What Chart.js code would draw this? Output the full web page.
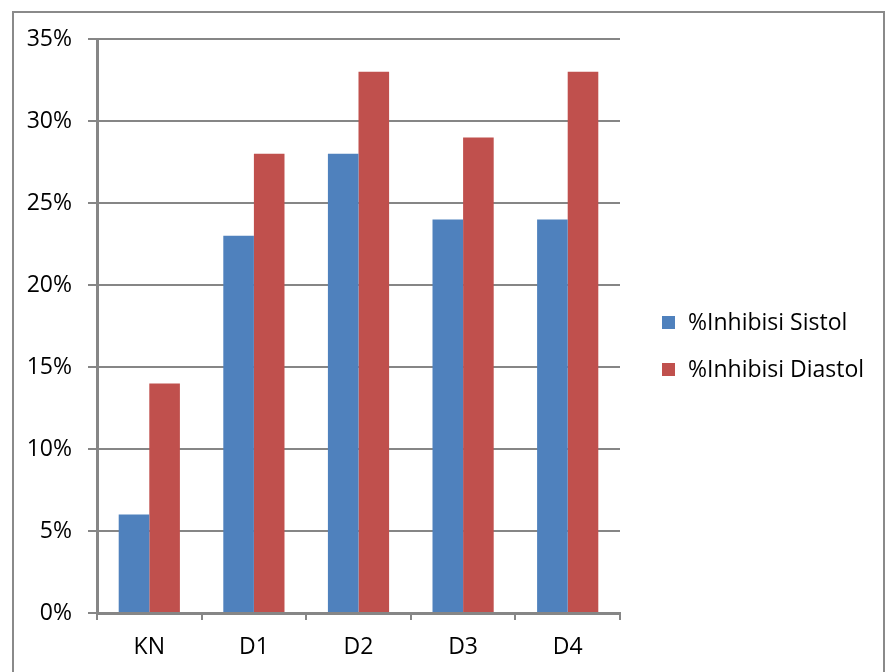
<!DOCTYPE html>
<html>
<head>
<meta charset="utf-8">
<script src="https://cdn.jsdelivr.net/npm/chart.js@4/dist/chart.umd.min.js"></script>
<style>
  html, body { margin: 0; padding: 0; background: #fff; }
  #wrap { position: relative; width: 889px; height: 672px; }
  #frame { position: absolute; left: 12px; top: 11px; width: 873px; height: 670px; border: 2px solid #8a8a8a; box-sizing: border-box; pointer-events: none; }
  canvas { position: absolute; left: 0; top: 0; }
</style>
</head>
<body>
<div id="wrap">
  <canvas id="c" width="889" height="672"></canvas>
  <div id="frame"></div>
</div>
<script>
const categories = ['KN', 'D1', 'D2', 'D3', 'D4'];
const sistol = [6, 23, 28, 24, 24];
const diastol = [14, 28, 33, 29, 33];
const seriesNames = ['%Inhibisi Sistol', '%Inhibisi Diastol'];
const seriesColors = ['#4f81bd', '#c0504d'];

const FONT = '"Open Sans", Lato, sans-serif';
const GRID = '#868686';

// Legend drawn to the right of the plot from the dataset labels/colours
const sideLegend = {
  id: 'sideLegend',
  afterDraw(chart) {
    const ctx = chart.ctx;
    ctx.save();
    ctx.font = '23px ' + FONT;
    ctx.textBaseline = 'middle';
    ctx.textAlign = 'left';
    chart.data.datasets.forEach((ds, i) => {
      const y = 322 + i * 47;
      ctx.fillStyle = ds.backgroundColor;
      ctx.fillRect(662, y - 6, 13, 13);
      ctx.fillStyle = '#000';
      ctx.fillText(ds.label, 688, y + 1);
    });
    ctx.restore();
  }
};

new Chart(document.getElementById('c'), {
  type: 'bar',
  data: {
    labels: categories,
    datasets: [
      { label: seriesNames[0], data: sistol, backgroundColor: seriesColors[0] },
      { label: seriesNames[1], data: diastol, backgroundColor: seriesColors[1] }
    ]
  },
  options: {
    responsive: false,
    animation: false,
    devicePixelRatio: 1,
    layout: { padding: { top: 39, right: 269, left: 0, bottom: 0 } },
    datasets: { bar: { categoryPercentage: 0.585, barPercentage: 1.0 } },
    plugins: { legend: { display: false }, tooltip: { enabled: false } },
    scales: {
      x: {
        afterFit(s) { s.height = 59; },
        grid: { drawOnChartArea: false, drawTicks: true, tickLength: 7, color: GRID, lineWidth: 2 },
        border: { color: GRID, width: 3 },
        ticks: { color: '#000', font: { family: FONT, size: 23 }, padding: 14 }
      },
      y: {
        min: 0, max: 35,
        afterFit(s) { s.width = 97; },
        grid: { drawTicks: true, tickLength: 9, color: GRID, lineWidth: 2 },
        border: { color: GRID, width: 3 },
        ticks: { stepSize: 5, color: '#000', font: { family: FONT, size: 23 }, padding: 16,
                 callback: v => v + '%' }
      }
    }
  },
  plugins: [sideLegend]
});
</script>
</body>
</html>
